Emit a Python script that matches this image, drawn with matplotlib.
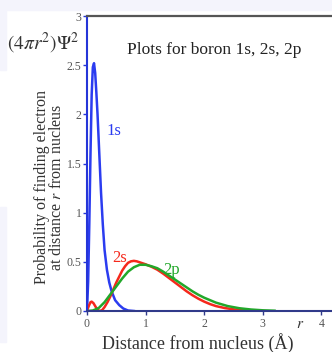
import matplotlib
matplotlib.use('Agg')
import matplotlib.pyplot as plt
from matplotlib.patches import Rectangle

plt.rcParams['font.family'] = 'Liberation Serif'
plt.rcParams['mathtext.fontset'] = 'stix'

# values (r in angstrom)
r_1s = [0, 0.02, 0.04, 0.06, 0.08, 0.10, 0.12, 0.14, 0.16, 0.18, 0.21, 0.24, 0.27,
        0.30, 0.34, 0.38, 0.42, 0.48, 0.55, 0.62, 0.70, 0.80]
p_1s = [0, 0.3, 0.9, 1.6, 2.2, 2.48, 2.52, 2.42, 2.22, 2.0, 1.6, 1.2, 0.88,
        0.62, 0.42, 0.29, 0.2, 0.11, 0.06, 0.025, 0.005, 0]

r_2s = [0, 0.03, 0.06, 0.08, 0.11, 0.15, 0.19, 0.22, 0.26, 0.30, 0.35, 0.40, 0.45,
        0.50, 0.55, 0.60, 0.65, 0.70, 0.75, 0.80, 0.85, 0.90, 0.95, 1.0, 1.1, 1.2,
        1.3, 1.4, 1.5, 1.6, 1.7, 1.8, 1.9, 2.0, 2.1, 2.2, 2.35, 2.5, 2.65, 2.8]
p_2s = [0, 0.05, 0.09, 0.095, 0.08, 0.04, 0.008, 0, 0.01, 0.04, 0.09, 0.15, 0.22,
        0.29, 0.35, 0.41, 0.455, 0.49, 0.505, 0.51, 0.505, 0.495, 0.485, 0.475, 0.45, 0.42,
        0.38, 0.335, 0.29, 0.245, 0.2, 0.16, 0.125, 0.095, 0.07, 0.05, 0.03, 0.017, 0.008, 0.003]

r_2p = [0, 0.1, 0.2, 0.3, 0.4, 0.5, 0.6, 0.7, 0.8, 0.9, 1.0, 1.1, 1.2, 1.3, 1.4,
        1.5, 1.6, 1.7, 1.8, 1.9, 2.0, 2.2, 2.4, 2.6, 2.8, 3.0, 3.2]
p_2p = [0, 0.005, 0.03, 0.09, 0.17, 0.25, 0.33, 0.40, 0.445, 0.47, 0.47, 0.455, 0.435,
        0.40, 0.36, 0.32, 0.28, 0.24, 0.2, 0.165, 0.135, 0.085, 0.05, 0.028, 0.015, 0.007, 0.003]

xticks = [0, 1, 2, 3, 4]
yticks = [0, 0.5, 1, 1.5, 2, 2.5, 3]
ytick_labels = ['0', '0.5', '1', '1.5', '2', '2.5', '3']

fig = plt.figure(figsize=(3.32, 3.52), dpi=100)
bg = '#f4f4fc'
fig.patches.append(Rectangle((0, 0.9716), 1, 0.0284, transform=fig.transFigure, color=bg, zorder=0))
fig.patches.append(Rectangle((0, 0.801), 0.018, 0.171, transform=fig.transFigure, color=bg, zorder=0))
fig.patches.append(Rectangle((0, 0.028), 0.018, 0.384, transform=fig.transFigure, color=bg, zorder=0))

ax = fig.add_axes([0.262, 0.1165, 0.738, 0.838])
ax.plot(r_1s, p_1s, color='#2b3cf0', lw=1.8)
ax.plot(r_2s, p_2s, color='#f5281c', lw=1.8)
ax.plot(r_2p, p_2p, color='#22a82a', lw=1.8)

ax.set_xlim(0, 4.18)
ax.set_ylim(0, 3)
ax.set_xticks(xticks)
ax.set_yticks(yticks)
ax.set_yticklabels(ytick_labels)

ax.spines['right'].set_visible(False)
ax.spines['left'].set_color('#2535d8')
ax.spines['left'].set_linewidth(1.5)
ax.spines['bottom'].set_color('#303a8a')
ax.spines['bottom'].set_linewidth(1.5)
ax.spines['top'].set_color('#555555')
ax.spines['top'].set_linewidth(1.6)
ax.tick_params(axis='y', colors='#2535d8', labelcolor='#555555', length=3, width=1,
               labelsize=8.5, pad=1)
ax.tick_params(axis='x', colors='#303a8a', labelcolor='#555555', length=3, width=1,
               labelsize=8.5, pad=2)

ax.set_xlabel('Distance from nucleus (Å)', fontsize=13, color='#333333')
ax.xaxis.set_label_coords(0.453, -0.075)
ax.set_ylabel('Probability of finding electron\nat distance $r$ from nucleus',
              fontsize=11.5, color='#333333', linespacing=0.95)
ax.yaxis.set_label_coords(-0.09, 0.42)

ax.text(3.63, -0.07, '$r$', fontsize=11, color='#333333', ha='center', va='top')
fig.text(0.022, 0.877, r'$(4\pi r^2)\Psi^2$', fontsize=14, color='#333333', va='center')
ax.text(0.69, 2.65, 'Plots for boron 1s, 2s, 2p', fontsize=12.5, color='#222222', va='center')
ax.text(0.34, 1.83, '1s', fontsize=12, color='#2b3cf0', va='center')
ax.text(0.43, 0.54, '2s', fontsize=12, color='#f5281c', va='center')
ax.text(1.3, 0.42, '2p', fontsize=12, color='#22a82a', va='center')

fig.savefig('out.png', dpi=100)
